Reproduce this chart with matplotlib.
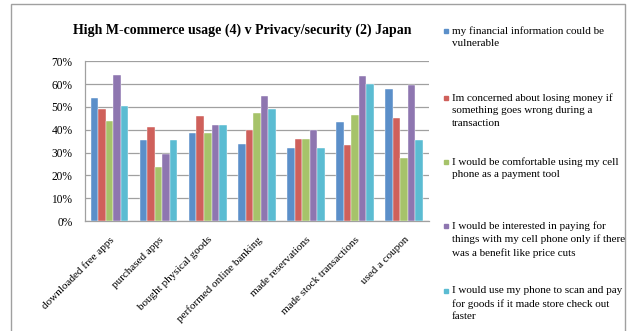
import matplotlib
matplotlib.use("Agg")
import matplotlib.pyplot as plt
import numpy as np
from matplotlib.patches import Rectangle

categories = ["downloaded free apps", "purchased apps", "bought physical goods",
              "performed online banking", "made reservations",
              "made stock transactions", "used a coupon"]
series_names = [
    "my financial information could be\nvulnerable",
    "Im concerned about losing money if\nsomething goes wrong during a\ntransaction",
    "I would be comfortable using my cell\nphone as a payment tool",
    "I would be interested in paying for\nthings with my cell phone only if there\nwas a benefit like price cuts",
    "I would use my phone to scan and pay\nfor goods if it made store check out\nfaster",
]
financial = [53.7, 35.3, 38.5, 33.7, 31.8, 43.2, 57.9]
losing_money = [48.9, 41.0, 46.0, 39.7, 36.0, 33.1, 45.0]
comfortable = [43.8, 23.6, 38.4, 47.2, 36.0, 46.4, 27.5]
price_cuts = [64.2, 29.3, 42.2, 54.6, 40.0, 63.4, 59.6]
faster = [50.4, 35.3, 42.2, 49.1, 31.8, 59.9, 35.5]
yticks = [0, 10, 20, 30, 40, 50, 60, 70]
ytick_labels = ["0%", "10%", "20%", "30%", "40%", "50%", "60%", "70%"]

colors = ["#5B8FC9", "#CF605B", "#A6C36A", "#8E76B0", "#5BBCD2"]
series = [financial, losing_money, comfortable, price_cuts, faster]

plt.rcParams['font.family'] = ['Liberation Serif', 'DejaVu Serif']

fig = plt.figure(figsize=(6.28, 3.31), dpi=100)
W, H = 628, 331
ax = fig.add_axes([85 / W, 1 - 221 / H, (428.7 - 85) / W, (221 - 61.3) / H])

x = np.arange(len(categories))
bw = 0.153
for i, (vals, c) in enumerate(zip(series, colors)):
    ax.bar(x + (i - 2) * bw, vals, width=bw, color=c, edgecolor="white",
           linewidth=0.3, zorder=3)

ax.set_xlim(-0.5, len(categories) - 0.5)
ax.set_ylim(0, 70)
ax.set_yticks(yticks)
ax.set_yticklabels(ytick_labels, fontsize=8.3)
ax.yaxis.grid(True, color="#a0a0a0", linewidth=0.9, zorder=0)
ax.set_xticks(x)
ax.set_xticklabels(categories, rotation=45, ha="right", rotation_mode="anchor",
                   fontsize=8)
ax.tick_params(axis="y", length=0, pad=9)
ax.tick_params(axis="x", length=0, pad=10)
for s in ["top", "right"]:
    ax.spines[s].set_visible(False)
for s in ["left", "bottom"]:
    ax.spines[s].set_color("#a0a0a0")
    ax.spines[s].set_linewidth(0.9)

fig.text(242 / W, 1 - 30 / H, "High M-commerce usage (4) v Privacy/security (2) Japan",
         ha="center", va="center", fontsize=10, fontweight="bold")

# legend drawn manually
entry_tops = [32, 99, 163, 227, 292]
for name, c, ty in zip(series_names, colors, entry_tops):
    fig.patches.append(Rectangle((444 / W, 1 - (ty + 1) / H), 4 / W, 4 / H,
                                 transform=fig.transFigure, color=c))
    fig.text(452 / W, 1 - (ty - 6) / H, name, ha="left", va="top",
             fontsize=8, linespacing=1.5)

# chart frame
fig.patches.append(Rectangle((11 / W, -0.05), (625 - 11) / W, 1.05 - 4 / H,
                             transform=fig.transFigure, fill=False,
                             edgecolor="#a0a0a0", linewidth=1.0))

fig.savefig("out.png", dpi=100)
